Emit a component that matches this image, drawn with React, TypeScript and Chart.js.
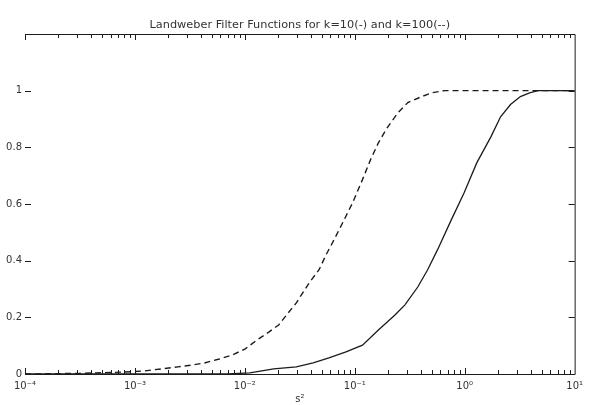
import React, { useEffect, useRef } from "react";
import { Chart, registerables } from "chart.js";

Chart.register(...registerables);

const titleText = "Landweber Filter Functions for k=10(-) and k=100(--)";
const xAxisTitle = "s²";

const decadeTicks = [1e-4, 1e-3, 1e-2, 1e-1, 1, 10];
const decadeLabels = ["10⁻⁴", "10⁻³", "10⁻²", "10⁻¹", "10⁰", "10¹"];
const yTicks = [0, 0.2, 0.4, 0.6, 0.8, 1];
const yTickLabels = ["0", "0.2", "0.4", "0.6", "0.8", "1"];

// k = 10 (solid)
const solidX = [1e-4, 1e-3, 0.00692, 0.0111, 0.0183, 0.0294, 0.0418, 0.0582, 0.0832, 0.1175, 0.164, 0.232, 0.286, 0.374, 0.459, 0.565, 0.755, 0.988, 1.29, 1.73, 2.12, 2.61, 3.21, 3.95, 4.66, 10];
const solidY = [0, 0, 0, 0.004, 0.018, 0.025, 0.039, 0.057, 0.078, 0.102, 0.155, 0.208, 0.244, 0.307, 0.367, 0.438, 0.544, 0.64, 0.746, 0.837, 0.908, 0.951, 0.979, 0.993, 1, 1];

// k = 100 (dashed)
const dashedX = [1e-4, 3e-4, 0.00082, 0.00124, 0.00173, 0.00246, 0.00336, 0.0043, 0.00586, 0.00767, 0.01, 0.0129, 0.0165, 0.0203, 0.0239, 0.0294, 0.0385, 0.0473, 0.0547, 0.0646, 0.0776, 0.0955, 0.1175, 0.139, 0.164, 0.197, 0.247, 0.304, 0.406, 0.509, 0.653, 10];
const dashedY = [0, 0.002, 0.007, 0.011, 0.018, 0.025, 0.032, 0.039, 0.053, 0.067, 0.088, 0.12, 0.148, 0.173, 0.208, 0.251, 0.322, 0.368, 0.42, 0.473, 0.534, 0.604, 0.686, 0.756, 0.816, 0.869, 0.922, 0.958, 0.979, 0.993, 1, 1];

const FONT = "'DejaVu Sans', sans-serif";
const INK = "#1c1c1c";

const axesPlugin = {
  id: "matlabAxes",
  afterDraw(chart: any) {
    const { ctx, chartArea } = chart;
    const xs = chart.scales.x;
    const ys = chart.scales.y;
    const { left, right, top, bottom } = chartArea;
    ctx.save();
    ctx.strokeStyle = INK;
    ctx.lineWidth = 1;
    ctx.beginPath();
    ctx.moveTo(left, top + 0.5);
    ctx.lineTo(right + 0.5, top + 0.5);
    ctx.lineTo(right + 0.5, bottom + 0.5);
    ctx.lineTo(left, bottom + 0.5);
    ctx.stroke();

    ctx.beginPath();
    for (let d = -4; d < 1; d++) {
      for (let m = 1; m <= 9; m++) {
        const v = m * Math.pow(10, d);
        const px = Math.round(xs.getPixelForValue(v)) + 0.5;
        const len = m === 1 ? 6 : 4;
        ctx.moveTo(px, bottom);
        ctx.lineTo(px, bottom - len);
        ctx.moveTo(px, top);
        ctx.lineTo(px, top + len);
      }
    }
    for (const v of yTicks) {
      const py = Math.round(ys.getPixelForValue(v)) + 0.5;
      ctx.moveTo(left, py);
      ctx.lineTo(left + 6, py);
      ctx.moveTo(right, py);
      ctx.lineTo(right - 6, py);
    }
    ctx.stroke();

    // chart title, centred over the plot area
    ctx.fillStyle = "#333";
    ctx.font = `11.3px ${FONT}`;
    ctx.textAlign = "center";
    ctx.textBaseline = "middle";
    ctx.fillText(titleText, (left + right) / 2, 25);
    ctx.restore();
  },
};

export default function App() {
  const ref = useRef<HTMLCanvasElement | null>(null);

  useEffect(() => {
    document.body.style.margin = "0";
    const canvas = ref.current;
    if (!canvas) return;
    const chart = new Chart(canvas, {
      type: "line",
      data: {
        datasets: [
          {
            label: "k=10",
            data: solidX.map((x, i) => ({ x, y: solidY[i] })),
            borderColor: INK,
            borderWidth: 1.3,
            pointRadius: 0,
            tension: 0,
            fill: false,
          },
          {
            label: "k=100",
            data: dashedX.map((x, i) => ({ x, y: dashedY[i] })),
            borderColor: INK,
            borderWidth: 1.4,
            borderDash: [6, 4],
            pointRadius: 0,
            tension: 0,
            fill: false,
          },
        ],
      },
      options: {
        animation: false,
        responsive: false,
        devicePixelRatio: 1,
        layout: { padding: { left: 0, right: 7, top: 34, bottom: 0 } },
        plugins: {
          legend: { display: false },
          tooltip: { enabled: false },
          title: { display: false },
        },
        scales: {
          x: {
            type: "logarithmic",
            min: 1e-4,
            max: 10,
            grid: { display: false, drawTicks: false },
            border: { display: false },
            afterFit: (s: any) => {
              s.height = 31;
            },
            afterBuildTicks: (s: any) => {
              s.ticks = decadeTicks.map((v) => ({ value: v }));
            },
            ticks: {
              autoSkip: false,
              maxRotation: 0,
              padding: 6,
              color: "#333",
              font: { family: FONT, size: 10 },
              callback: (v: any) => {
                const i = decadeTicks.findIndex((t) => Math.abs(Math.log10(t) - Math.log10(Number(v))) < 1e-6);
                return i >= 0 ? decadeLabels[i] : "";
              },
            },
            title: {
              display: true,
              text: xAxisTitle,
              color: "#333",
              font: { family: FONT, size: 10 },
              padding: { top: 0, bottom: 0 },
            },
          },
          y: {
            type: "linear",
            min: 0,
            max: 1.2,
            grid: { display: false, drawTicks: false },
            border: { display: false },
            afterFit: (s: any) => {
              s.width = 25;
            },
            afterBuildTicks: (s: any) => {
              s.ticks = yTicks.map((v) => ({ value: v }));
            },
            ticks: {
              padding: 3,
              color: "#333",
              font: { family: FONT, size: 10 },
              callback: (v: any) => {
                const i = yTicks.findIndex((t) => Math.abs(t - Number(v)) < 1e-6);
                return i >= 0 ? yTickLabels[i] : "";
              },
            },
          },
        },
      },
      plugins: [axesPlugin],
    });
    return () => chart.destroy();
  }, []);

  return <canvas ref={ref} width={589} height={405} style={{ display: "block", width: 589, height: 405 }} />;
}
